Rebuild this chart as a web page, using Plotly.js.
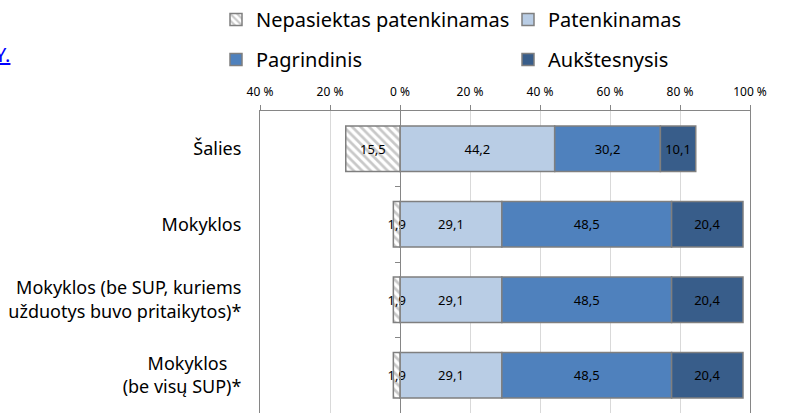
<!DOCTYPE html>
<html>
<head>
<meta charset="utf-8">
<script src="https://cdn.plot.ly/plotly-3.0.1.min.js"></script>
<style>html,body{margin:0;padding:0;background:#fff;}#chart{width:785px;height:413px;}</style>
</head>
<body>
<div id="chart"></div>
<script>
var categories = [
  "Šalies",
  "Mokyklos",
  "Mokyklos (be SUP, kuriems<br>užduotys buvo pritaikytos)*",
  "Mokyklos\u00a0\u00a0\u00a0<br>(be visų SUP)*"
];
var seriesNames = ["Nepasiektas patenkinamas", "Patenkinamas", "Pagrindinis", "Aukštesnysis"];
var nepasiektas = [-15.5, -1.9, -1.9, -1.9];
var patenkinamas = [44.2, 29.1, 29.1, 29.1];
var pagrindinis = [30.2, 48.5, 48.5, 48.5];
var aukstesnysis = [10.1, 20.4, 20.4, 20.4];
var tickValues = [-40, -20, 0, 20, 40, 60, 80, 100];
var tickLabels = ["40 %", "20 %", "0 %", "20 %", "40 %", "60 %", "80 %", "100 %"];

var FONT = "Noto Sans, Open Sans, sans-serif";
function lbl(arr){ return arr.map(function(v){ return Math.abs(v).toFixed(1).replace('.', ','); }); }
var colors = ["#ffffff", "#b9cde5", "#4f81bd", "#385d8a"];
var series = [nepasiektas, patenkinamas, pagrindinis, aukstesnysis];
var legendIds = ["legend", "legend2", "legend3", "legend4"];

var traces = series.map(function(vals, i){
  var t = {
    type: "bar",
    orientation: "h",
    name: seriesNames[i],
    y: categories,
    x: vals,
    text: lbl(vals),
    textposition: "inside",
    insidetextanchor: "middle",
    constraintext: "none",
    textangle: 0,
    textfont: {family: FONT, size: 13, color: "#000000"},
    hoverinfo: "skip",
    legend: legendIds[i],
    marker: {color: colors[i], line: {color: "#7f7f7f", width: 1.5}}
  };
  if (i === 0) {
    t.marker.pattern = {shape: "\\", bgcolor: "#ffffff", fgcolor: "#c8c8c8", size: 6, solidity: 0.45};
  }
  return t;
});
// draw the negative (hatched) series last so its small labels stay on top
traces.push(traces.shift());

function legendAt(px, py) {
  return {
    orientation: "h",
    x: (px - 260) / 490, xanchor: "left",
    y: 1 + (110 - py) / 303, yanchor: "top",
    font: {family: FONT, size: 20, color: "#000000"},
    bgcolor: "rgba(0,0,0,0)"
  };
}

var layout = {
  width: 785, height: 413,
  margin: {l: 260, r: 35, t: 110, b: 0, pad: 0},
  paper_bgcolor: "#ffffff", plot_bgcolor: "#ffffff",
  barmode: "relative",
  bargap: 0.4,
  separators: ", ",
  font: {family: FONT, color: "#000000"},
  xaxis: {
    side: "top",
    range: [-40, 100],
    tickvals: tickValues,
    ticktext: tickLabels,
    tickfont: {family: FONT, size: 12, color: "#000000"},
    ticks: "outside", ticklen: 5, tickcolor: "#868686",
    ticklabelstandoff: 4,
    showline: true, linecolor: "#868686", linewidth: 1,
    showgrid: true, gridcolor: "#d9d9d9", gridwidth: 1,
    zeroline: true, zerolinecolor: "#868686", zerolinewidth: 1,
    fixedrange: true
  },
  yaxis: {
    type: "category",
    autorange: "reversed",
    ticks: "outside", ticklen: 14, tickcolor: "rgba(0,0,0,0)",
    tickfont: {family: FONT, size: 18, color: "#000000"},
    showline: true, mirror: true, linecolor: "#868686", linewidth: 1,
    showgrid: false, zeroline: false,
    fixedrange: true
  },
  yaxis2: {
    overlaying: "y",
    anchor: "free",
    position: 40 / 140,
    side: "left",
    range: [3.5, -0.5],
    tickvals: [0.5, 1.5, 2.5],
    ticks: "outside", ticklen: 5, tickcolor: "#868686",
    showticklabels: false,
    showline: true, linecolor: "#868686",
    showgrid: false, zeroline: false,
    fixedrange: true
  },
  legend: legendAt(216, -2),
  legend2: legendAt(508, -2),
  legend3: legendAt(216, 40),
  legend4: legendAt(508, 40),
  annotations: [{
    xref: "paper", yref: "paper",
    x: (12 - 260) / 490, xanchor: "right",
    y: 1 + (110 - 53) / 303, yanchor: "middle",
    text: "<u>Y.</u>",
    showarrow: false,
    font: {family: FONT, size: 20, color: "#0000ff"}
  }],
  showlegend: true
};

traces.push({type: "scatter", x: [0], y: [0], yaxis: "y2", mode: "markers", marker: {opacity: 0}, showlegend: false, hoverinfo: "skip"});

Plotly.newPlot("chart", traces, layout, {displayModeBar: false, staticPlot: true});
</script>
</body>
</html>
